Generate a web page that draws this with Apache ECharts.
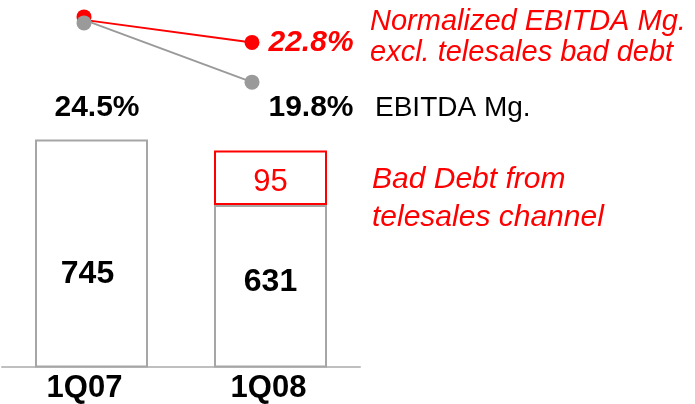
<!DOCTYPE html>
<html>
<head>
<meta charset="utf-8">
<script src="https://cdn.jsdelivr.net/npm/echarts@6/dist/echarts.min.js"></script>
<style>
html,body{margin:0;padding:0;background:#fff;}
#chart{width:695px;height:404px;}
</style>
</head>
<body>
<div id="chart"></div>
<script>
// ---- data ----
const categories = ['1Q07', '1Q08'];
const ebitda = [745, 631];              // EBITDA (bars, grey outline)
const badDebt = [null, 95];             // Bad debt from telesales channel (red outline)
const ebitdaMargin = [24.5, 19.8];      // EBITDA Mg. (%)
const normalizedMargin = [24.5, 22.8];  // Normalized EBITDA Mg. excl. telesales bad debt (%)

// ---- styles ----
const RED = '#ff0000';
const GREY = '#a6a6a6';
const LINE_GREY = '#9a9a9a';
const FONT = "'Liberation Sans', Arial, sans-serif";

const ebitdaLabelOffsets = [[-4, 21], [0, -4]];
const marginLabelOffsets = [[13, 85], [59, 26]];
const redSymbolOffsets = [[0, -3], [0, 0]];
const greySymbolOffsets = [[0, 3], [0, 0]];

const chart = echarts.init(document.getElementById('chart'));

const catLabelStyle = { color: '#000', fontFamily: FONT, fontWeight: 'bold', fontSize: 31, lineHeight: 30 };

chart.setOption({
  animation: false,
  backgroundColor: '#fff',
  grid: [
    { left: 2, right: 335, top: 0, bottom: 37 },
    { left: 84, right: 443, top: 0, height: 106 }
  ],
  xAxis: [
    {
      type: 'category', gridIndex: 0, data: categories,
      axisLine: { lineStyle: { color: '#bfbfbf', width: 2 } },
      axisTick: { show: false },
      axisLabel: {
        margin: 7,
        formatter: (v, i) => (i === 0 ? '{a|' : '{b|') + v + '}',
        rich: {
          a: Object.assign({ padding: [0, 14, 0, 0] }, catLabelStyle),
          b: Object.assign({ padding: [0, 4, 0, 0] }, catLabelStyle)
        }
      }
    },
    {
      type: 'category', gridIndex: 1, data: categories, boundaryGap: false, show: false
    }
  ],
  yAxis: [
    { type: 'value', gridIndex: 0, min: 350, max: 988, show: false, splitLine: { show: false } },
    { type: 'value', gridIndex: 1, min: 18, max: 26, show: false, splitLine: { show: false } }
  ],
  series: [
    {
      name: 'EBITDA', type: 'bar', stack: 'total', xAxisIndex: 0, yAxisIndex: 0,
      barWidth: 113,
      itemStyle: { color: '#fff', borderColor: GREY, borderWidth: 2 },
      data: ebitda.map((v, i) => ({ value: v, label: { offset: ebitdaLabelOffsets[i] } })),
      label: { show: true, position: 'inside', color: '#000', fontFamily: FONT, fontWeight: 'bold', fontSize: 32 }
    },
    {
      name: 'Bad Debt from telesales channel', type: 'bar', stack: 'total', xAxisIndex: 0, yAxisIndex: 0,
      barWidth: 113,
      itemStyle: { color: '#fff', borderColor: RED, borderWidth: 2 },
      data: badDebt,
      label: { show: true, position: 'inside', offset: [0, 5], color: RED, fontFamily: FONT, fontSize: 31 }
    },
    {
      name: 'Normalized EBITDA Mg.', type: 'line', xAxisIndex: 1, yAxisIndex: 1,
      data: normalizedMargin.map((v, i) => ({ value: v, symbolOffset: redSymbolOffsets[i], label: { show: i === 1 } })),
      symbol: 'circle', symbolSize: 15,
      lineStyle: { color: RED, width: 2 },
      itemStyle: { color: RED },
      label: {
        position: 'right', distance: 9, color: RED, fontFamily: FONT, fontWeight: 'bold',
        fontStyle: 'italic', fontSize: 30, formatter: p => p.value.toFixed(1) + '%'
      }
    },
    {
      name: 'EBITDA Mg.', type: 'line', xAxisIndex: 1, yAxisIndex: 1,
      data: ebitdaMargin.map((v, i) => ({ value: v, symbolOffset: greySymbolOffsets[i], label: { offset: marginLabelOffsets[i] } })),
      symbol: 'circle', symbolSize: 15,
      lineStyle: { color: LINE_GREY, width: 2 },
      itemStyle: { color: LINE_GREY },
      label: {
        show: true, position: 'inside', color: '#000', fontFamily: FONT, fontWeight: 'bold',
        fontSize: 30, formatter: p => p.value.toFixed(1) + '%'
      }
    }
  ],
  graphic: [
    {
      type: 'text', left: 370, top: 6,
      style: {
        text: 'Normalized EBITDA Mg.\nexcl. telesales bad debt',
        font: 'italic 29px ' + FONT, fill: RED, lineHeight: 31.6
      }
    },
    {
      type: 'text', left: 375, top: 93,
      style: { text: 'EBITDA Mg.', font: '28px ' + FONT, fill: '#000', lineHeight: 30 }
    },
    {
      type: 'text', left: 372, top: 161,
      style: {
        text: 'Bad Debt from\ntelesales channel',
        font: 'italic 30px ' + FONT, fill: RED, lineHeight: 38
      }
    }
  ]
});
</script>
</body>
</html>
